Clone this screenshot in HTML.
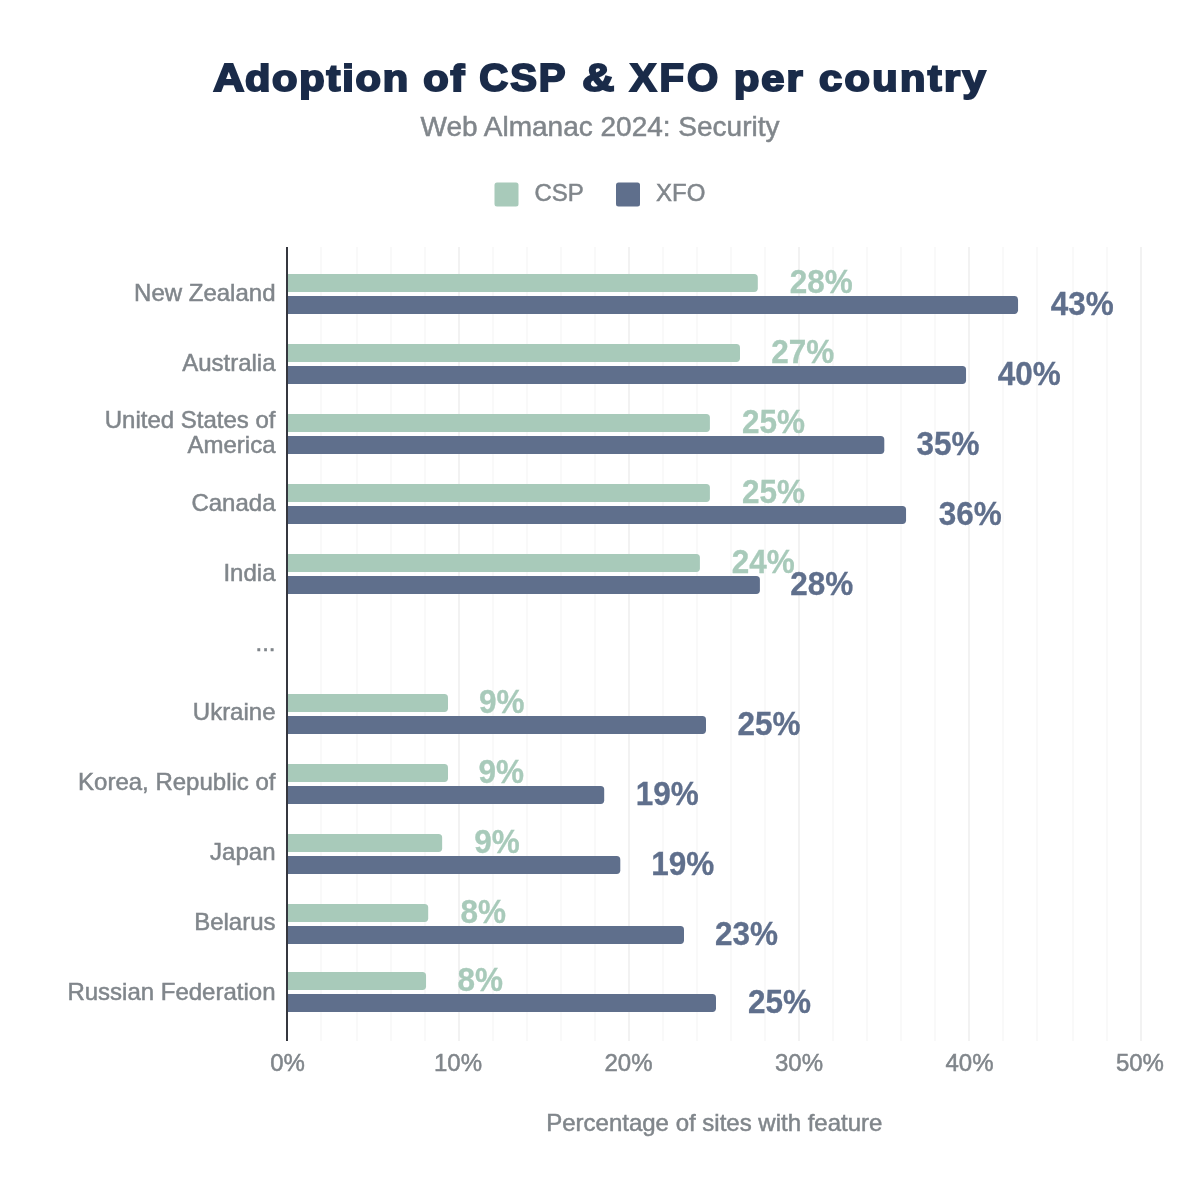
<!DOCTYPE html>
<html lang="en">
<head>
<meta charset="utf-8">
<title>Adoption of CSP &amp; XFO per country</title>
<style>
html,body{margin:0;padding:0;background:#fff;}
body{width:1200px;height:1196px;overflow:hidden;}
svg{display:block;}
text{font-family:"Liberation Sans",Arial,sans-serif;}
.t{font-size:24px;fill:#80868B;stroke:#80868B;stroke-width:0.5px;}
.v{font-size:32px;font-weight:bold;stroke-width:0.3px;}
</style>
</head>
<body>
<svg width="1200" height="1196" viewBox="0 0 1200 1196">
<rect width="1200" height="1196" fill="#ffffff"/>

<text y="90.6" font-size="36.8" font-weight="bold" fill="#1A2B49" stroke="#1A2B49" stroke-width="2.0" stroke-linejoin="miter" stroke-miterlimit="2.5"><tspan x="213.31" font-size="38.9" letter-spacing="0.000" textLength="31.04" lengthAdjust="spacingAndGlyphs">A</tspan><tspan x="244.91" font-size="36.8" letter-spacing="1.609" textLength="165.13" lengthAdjust="spacingAndGlyphs">doption</tspan> <tspan x="423.16" font-size="36.8" letter-spacing="1.783" textLength="43.28" lengthAdjust="spacingAndGlyphs">of</tspan> <tspan x="479.37" font-size="38.9" letter-spacing="1.810" textLength="87.98" lengthAdjust="spacingAndGlyphs">CSP</tspan> <tspan x="582.36" font-size="38.9" letter-spacing="0.000" textLength="32.11" lengthAdjust="spacingAndGlyphs">&amp;</tspan> <tspan x="629.85" font-size="38.9" letter-spacing="2.882" textLength="91.27" lengthAdjust="spacingAndGlyphs">XFO</tspan> <tspan x="733.96" font-size="36.8" letter-spacing="1.728" textLength="70.57" lengthAdjust="spacingAndGlyphs">per</tspan> <tspan x="819.10" font-size="36.8" letter-spacing="2.078" textLength="168.93" lengthAdjust="spacingAndGlyphs">country</tspan></text>
<text x="600" y="136" text-anchor="middle" font-size="28" fill="#80868B" stroke="#80868B" stroke-width="0.5">Web Almanac 2024: Security</text>
<rect x="494.5" y="182.5" width="24" height="24" rx="2.5" fill="#A8CABA"/>
<text class="t" x="534.5" y="201.25">CSP</text>
<rect x="616" y="182.5" width="24" height="24" rx="2.5" fill="#5F6F8C"/>
<text class="t" x="656" y="201.25">XFO</text>
<rect x="320" y="247" width="2" height="794" fill="#f9f9f9"/>
<rect x="356" y="247" width="2" height="794" fill="#f9f9f9"/>
<rect x="390" y="247" width="2" height="794" fill="#f9f9f9"/>
<rect x="424" y="247" width="2" height="794" fill="#f9f9f9"/>
<rect x="458" y="247" width="2" height="794" fill="#f2f2f2"/>
<rect x="492" y="247" width="2" height="794" fill="#f9f9f9"/>
<rect x="526" y="247" width="2" height="794" fill="#f9f9f9"/>
<rect x="560" y="247" width="2" height="794" fill="#f9f9f9"/>
<rect x="594" y="247" width="2" height="794" fill="#f9f9f9"/>
<rect x="628" y="247" width="2" height="794" fill="#f2f2f2"/>
<rect x="662" y="247" width="2" height="794" fill="#f9f9f9"/>
<rect x="696" y="247" width="2" height="794" fill="#f9f9f9"/>
<rect x="730" y="247" width="2" height="794" fill="#f9f9f9"/>
<rect x="764" y="247" width="2" height="794" fill="#f9f9f9"/>
<rect x="798" y="247" width="2" height="794" fill="#f2f2f2"/>
<rect x="832" y="247" width="2" height="794" fill="#f9f9f9"/>
<rect x="866" y="247" width="2" height="794" fill="#f9f9f9"/>
<rect x="900" y="247" width="2" height="794" fill="#f9f9f9"/>
<rect x="934" y="247" width="2" height="794" fill="#f9f9f9"/>
<rect x="968" y="247" width="2" height="794" fill="#f2f2f2"/>
<rect x="1002" y="247" width="2" height="794" fill="#f9f9f9"/>
<rect x="1036" y="247" width="2" height="794" fill="#f9f9f9"/>
<rect x="1072" y="247" width="2" height="794" fill="#f9f9f9"/>
<rect x="1106" y="247" width="2" height="794" fill="#f9f9f9"/>
<rect x="1140" y="247" width="2" height="794" fill="#f2f2f2"/>
<path d="M288 274.1H754.2Q757.8 274.1 757.8 277.7V288.3Q757.8 291.9 754.2 291.9H288Z" fill="#A8CABA"/>
<path d="M288 296.1H1014.45Q1018.05 296.1 1018.05 299.7V310.3Q1018.05 313.9 1014.45 313.9H288Z" fill="#5F6F8C"/>
<text class="t" x="275.5" y="301.00" text-anchor="end">New Zealand</text>
<text class="v" transform="translate(789.79,292.75) scale(0.984,1.04)" fill="#A8CABA" stroke="#A8CABA">28%</text>
<text class="v" transform="translate(1050.72,314.50) scale(0.984,1.04)" fill="#5F6F8C" stroke="#5F6F8C">43%</text>
<path d="M288 344.1H736.4Q740 344.1 740 347.7V358.3Q740 361.9 736.4 361.9H288Z" fill="#A8CABA"/>
<path d="M288 366.1H962.45Q966.05 366.1 966.05 369.7V380.3Q966.05 383.9 962.45 383.9H288Z" fill="#5F6F8C"/>
<text class="t" x="275.5" y="371.00" text-anchor="end">Australia</text>
<text class="v" transform="translate(771.29,362.75) scale(0.984,1.04)" fill="#A8CABA" stroke="#A8CABA">27%</text>
<text class="v" transform="translate(997.72,384.50) scale(0.984,1.04)" fill="#5F6F8C" stroke="#5F6F8C">40%</text>
<path d="M288 414.1H706.3Q709.9 414.1 709.9 417.7V428.3Q709.9 431.9 706.3 431.9H288Z" fill="#A8CABA"/>
<path d="M288 436.1H880.7Q884.3 436.1 884.3 439.7V450.3Q884.3 453.9 880.7 453.9H288Z" fill="#5F6F8C"/>
<text class="t" x="275.5" y="428.00" text-anchor="end">United States of</text>
<text class="t" x="275.5" y="453.00" text-anchor="end">America</text>
<text class="v" transform="translate(741.99,432.75) scale(0.984,1.04)" fill="#A8CABA" stroke="#A8CABA">25%</text>
<text class="v" transform="translate(916.47,454.50) scale(0.984,1.04)" fill="#5F6F8C" stroke="#5F6F8C">35%</text>
<path d="M288 484.1H706.3Q709.9 484.1 709.9 487.7V498.3Q709.9 501.9 706.3 501.9H288Z" fill="#A8CABA"/>
<path d="M288 506.1H902.45Q906.05 506.1 906.05 509.7V520.3Q906.05 523.9 902.45 523.9H288Z" fill="#5F6F8C"/>
<text class="t" x="275.5" y="511.00" text-anchor="end">Canada</text>
<text class="v" transform="translate(741.99,502.75) scale(0.984,1.04)" fill="#A8CABA" stroke="#A8CABA">25%</text>
<text class="v" transform="translate(938.72,524.50) scale(0.984,1.04)" fill="#5F6F8C" stroke="#5F6F8C">36%</text>
<path d="M288 554.1H696.3Q699.9 554.1 699.9 557.7V568.3Q699.9 571.9 696.3 571.9H288Z" fill="#A8CABA"/>
<path d="M288 576.1H756.3Q759.9 576.1 759.9 579.7V590.3Q759.9 593.9 756.3 593.9H288Z" fill="#5F6F8C"/>
<text class="t" x="275.5" y="581.00" text-anchor="end">India</text>
<text class="v" transform="translate(731.79,572.75) scale(0.984,1.04)" fill="#A8CABA" stroke="#A8CABA">24%</text>
<text class="v" transform="translate(790.29,594.50) scale(0.984,1.04)" fill="#5F6F8C" stroke="#5F6F8C">28%</text>
<text class="t" x="275.5" y="651.00" text-anchor="end">...</text>
<path d="M288 694.1H444.4Q448 694.1 448 697.7V708.3Q448 711.9 444.4 711.9H288Z" fill="#A8CABA"/>
<path d="M288 716.1H702.4Q706 716.1 706 719.7V730.3Q706 733.9 702.4 733.9H288Z" fill="#5F6F8C"/>
<text class="t" x="275.5" y="720.00" text-anchor="end">Ukraine</text>
<text class="v" transform="translate(478.99,712.75) scale(0.984,1.04)" fill="#A8CABA" stroke="#A8CABA">9%</text>
<text class="v" transform="translate(737.59,734.50) scale(0.984,1.04)" fill="#5F6F8C" stroke="#5F6F8C">25%</text>
<path d="M288 764.1H444.4Q448 764.1 448 767.7V778.3Q448 781.9 444.4 781.9H288Z" fill="#A8CABA"/>
<path d="M288 786.1H600.6Q604.2 786.1 604.2 789.7V800.3Q604.2 803.9 600.6 803.9H288Z" fill="#5F6F8C"/>
<text class="t" x="275.5" y="790.00" text-anchor="end">Korea, Republic of</text>
<text class="v" transform="translate(478.39,782.75) scale(0.984,1.04)" fill="#A8CABA" stroke="#A8CABA">9%</text>
<text class="v" transform="translate(635.78,804.50) scale(0.984,1.04)" fill="#5F6F8C" stroke="#5F6F8C">19%</text>
<path d="M288 834.1H438.55Q442.15 834.1 442.15 837.7V848.3Q442.15 851.9 438.55 851.9H288Z" fill="#A8CABA"/>
<path d="M288 856.1H616.7Q620.3 856.1 620.3 859.7V870.3Q620.3 873.9 616.7 873.9H288Z" fill="#5F6F8C"/>
<text class="t" x="275.5" y="860.00" text-anchor="end">Japan</text>
<text class="v" transform="translate(474.29,852.75) scale(0.984,1.04)" fill="#A8CABA" stroke="#A8CABA">9%</text>
<text class="v" transform="translate(651.28,874.50) scale(0.984,1.04)" fill="#5F6F8C" stroke="#5F6F8C">19%</text>
<path d="M288 904.1H424.6Q428.2 904.1 428.2 907.7V918.3Q428.2 921.9 424.6 921.9H288Z" fill="#A8CABA"/>
<path d="M288 926.1H680.4Q684 926.1 684 929.7V940.3Q684 943.9 680.4 943.9H288Z" fill="#5F6F8C"/>
<text class="t" x="275.5" y="930.00" text-anchor="end">Belarus</text>
<text class="v" transform="translate(460.43,922.75) scale(0.984,1.04)" fill="#A8CABA" stroke="#A8CABA">8%</text>
<text class="v" transform="translate(715.09,944.50) scale(0.984,1.04)" fill="#5F6F8C" stroke="#5F6F8C">23%</text>
<path d="M288 972.1H422.45Q426.05 972.1 426.05 975.7V986.3Q426.05 989.9 422.45 989.9H288Z" fill="#A8CABA"/>
<path d="M288 994.1H712.4Q716 994.1 716 997.7V1008.3Q716 1011.9 712.4 1011.9H288Z" fill="#5F6F8C"/>
<text class="t" x="275.5" y="1000.00" text-anchor="end">Russian Federation</text>
<text class="v" transform="translate(457.43,990.75) scale(0.984,1.04)" fill="#A8CABA" stroke="#A8CABA">8%</text>
<text class="v" transform="translate(747.89,1012.50) scale(0.984,1.04)" fill="#5F6F8C" stroke="#5F6F8C">25%</text>
<rect x="286" y="247" width="2" height="794" fill="#35373f"/>
<text class="t" x="287.55" y="1070.75" text-anchor="middle">0%</text>
<text class="t" x="458.03" y="1070.75" text-anchor="middle">10%</text>
<text class="t" x="628.51" y="1070.75" text-anchor="middle">20%</text>
<text class="t" x="798.99" y="1070.75" text-anchor="middle">30%</text>
<text class="t" x="969.47" y="1070.75" text-anchor="middle">40%</text>
<text class="t" x="1139.95" y="1070.75" text-anchor="middle">50%</text>
<text class="t" x="714.3" y="1130.5" text-anchor="middle">Percentage of sites with feature</text>
</svg>
</body>
</html>
